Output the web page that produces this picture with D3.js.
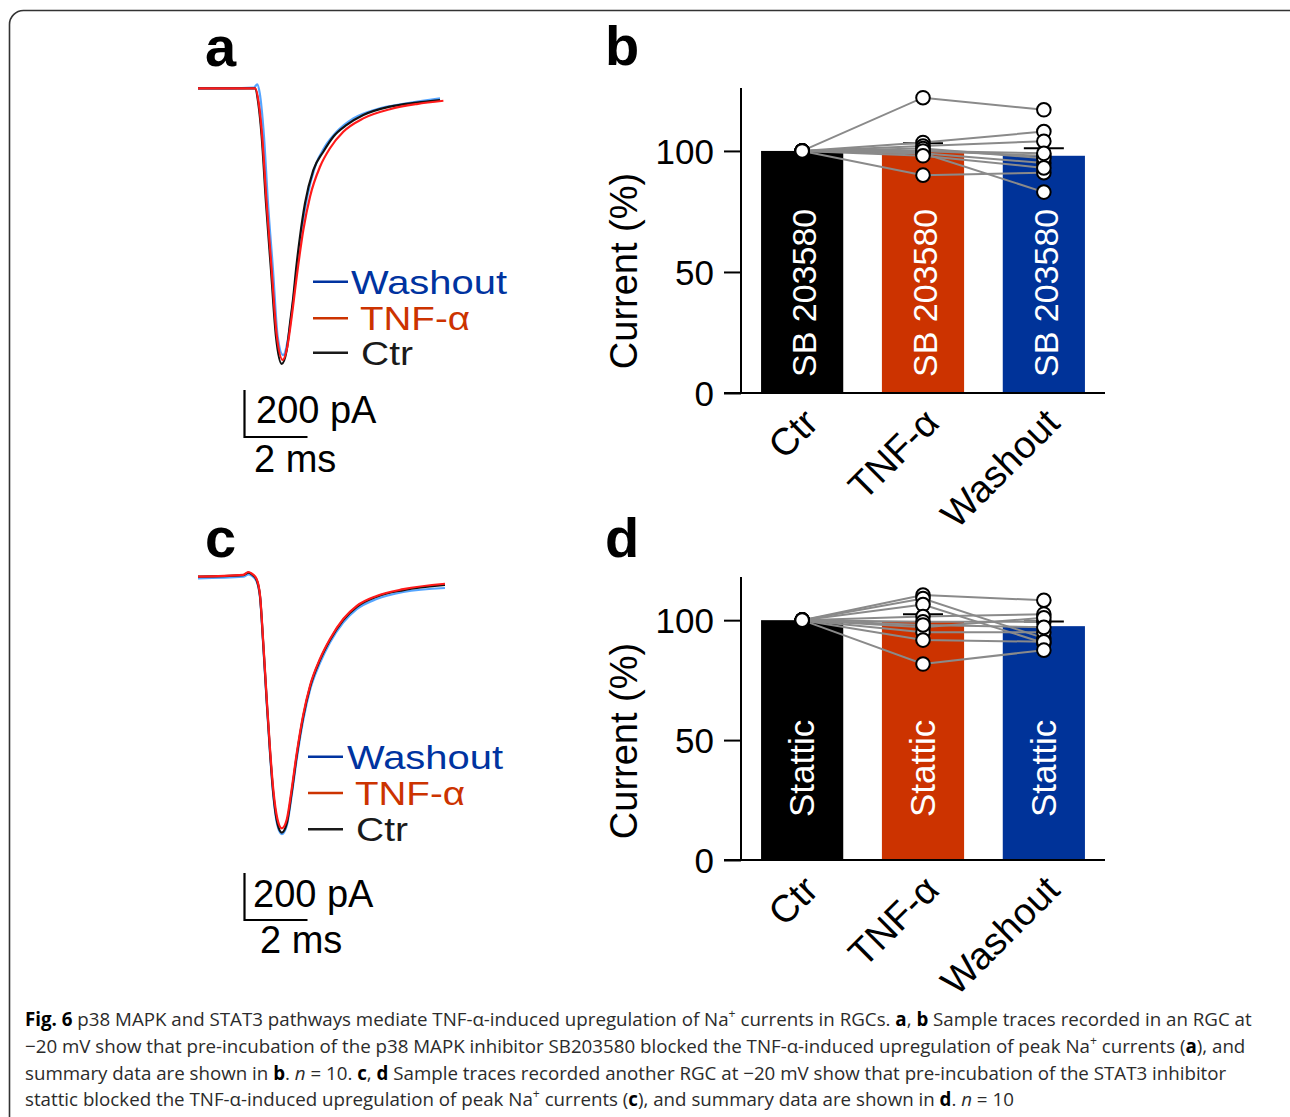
<!DOCTYPE html>
<html>
<head>
<meta charset="utf-8">
<script src="https://cdn.jsdelivr.net/npm/d3@7"></script>
<style>
  body { margin: 0; background: #fff; }
  svg { display: block; }
</style>
</head>
<body>
<div id="fig"></div>
<script>
// ---- data ----
// traces: time (ms) and current (pA), panel a (SB 203580)
var aCtrT = [0, 1.00, 1.81, 1.915, 2.022, 2.159, 2.317, 2.476, 2.657, 2.816, 2.921, 3.026, 3.111, 3.238, 3.397, 3.661, 3.978, 4.296, 4.720, 5.248, 6.095, 6.943, 7.683];
var aCtrI = [0, 0, 0, -64, -206, -489, -773, -1057, -1173, -1114, -1000, -887, -773, -631, -489, -348, -270, -206, -156, -114, -78, -61, -50];
var aTnfT = [0, 1.00, 1.82, 1.925, 2.035, 2.175, 2.335, 2.495, 2.69, 2.835, 2.975, 3.133, 3.343, 3.556, 3.873, 4.19, 4.613, 5.248, 6.095, 6.943, 7.79];
var aTnfI = [0, 0, 0, -60, -200, -480, -765, -1045, -1156, -1100, -972, -802, -603, -461, -334, -255, -185, -128, -89, -67, -53];
var aWashT = [0, 1.00, 1.78, 1.88, 1.96, 2.095, 2.222, 2.381, 2.53, 2.698, 2.87, 3.01, 3.133, 3.29, 3.47, 3.714, 4.03, 4.40, 4.93, 5.67, 6.625, 7.683];
var aWashI = [0, 0, 3, 17, -21, -206, -489, -773, -1057, -1135, -1057, -915, -773, -603, -461, -334, -248, -185, -128, -89, -64, -43];

// panel c (Stattic)
var cT = [0, 1.44, 1.60, 1.70, 1.86, 1.97, 2.07, 2.18, 2.29, 2.39, 2.52, 2.66, 2.82, 2.97, 3.13, 3.34, 3.56, 3.87, 4.19, 4.61, 5.04, 5.67, 6.52, 7.84];
var cCtrI = [0, 7, 17, 11, -14, -85, -283, -525, -752, -922, -1049, -1089, -1049, -922, -766, -596, -468, -355, -269, -184, -128, -85, -57, -35];
var cTnfI = [0, 8, 20, 14, -10, -80, -275, -515, -740, -905, -1030, -1071, -1032, -908, -755, -588, -462, -350, -265, -180, -124, -82, -53, -30];
var cWashI = [-7, 0, 10, 5, -20, -90, -290, -532, -760, -930, -1058, -1095, -1058, -935, -780, -610, -480, -368, -280, -195, -138, -95, -65, -48];

// summary bars
var groups = ["Ctr", "TNF-α", "Washout"];
var legendNames = ["Washout", "TNF-α", "Ctr"];
var yTicks = [0, 50, 100];
var bMeans = [100, 99.7, 98];
var bSem = [0, 3.5, 3.1];
var dMeans = [100, 99.3, 97.5];
var dSem = [0, 3.2, 1.9];
// individual cells (Ctr, TNF-α, Washout), n = 10
var bCtr = [100, 100, 100, 100, 100, 100, 100, 100, 100, 100];
var bTnf = [122, 90, 103.5, 102, 100, 99, 99, 101, 100, 98];
var bWash = [117, 91, 108, 104, 98, 83, 95, 97, 99, 93];
var dCtr = [100, 100, 100, 100, 100, 100, 100, 100, 100, 100];
var dTnf = [110.5, 109, 106.5, 101.5, 99.3, 97, 95, 91.7, 81.7, 98];
var dWash = [108.3, 92.5, 90.5, 102.5, 99.3, 101, 95, 91, 87.5, 97];

var barColors = ["#000000", "#cc3300", "#003399"];
var traceColors = { ctr: "#111111", tnf: "#ff1a1a", wash: "#55a5ff" };
var legendColors = ["#0033a0", "#cc3300", "#1a1a1a"];

var W = 1290, H = 1117;
var FONT = "'Liberation Sans', Arial, Helvetica, sans-serif";

var svg = d3.select("#fig").append("svg")
  .attr("width", W).attr("height", H)
  .style("font-family", FONT);

// outer frame
svg.append("rect")
  .attr("x", 9.5).attr("y", 10.5)
  .attr("width", 1300).attr("height", 1140)
  .attr("rx", 14)
  .attr("fill", "none").attr("stroke", "#333").attr("stroke-width", 1.6);

// panel letters
[["a", 205, 66], ["b", 605, 65], ["c", 205, 557], ["d", 605, 557]].forEach(function(p) {
  svg.append("text").attr("x", p[1]).attr("y", p[2])
    .attr("font-size", 56).attr("font-weight", "bold").attr("fill", "#000")
    .text(p[0]);
});

// ---- trace panels ----
function tracePanel(opts) {
  var g = svg.append("g");
  var x = d3.scaleLinear().domain([0, 2]).range([opts.x0, opts.x0 + 63]);
  var y = d3.scaleLinear().domain([0, -200]).range([opts.base, opts.base + 47]);
  var line = d3.line()
    .x(function(d) { return x(d[0]); })
    .y(function(d) { return y(d[1]); })
    .curve(d3.curveMonotoneX);

  opts.traces.forEach(function(tr) {
    g.append("path")
      .datum(d3.zip(tr.t, tr.i))
      .attr("d", line)
      .attr("fill", "none")
      .attr("stroke", tr.color)
      .attr("stroke-width", 2.2)
      .attr("stroke-linejoin", "round");
  });

  // legend (text stretched a little to the width seen in the figure)
  var legW = [156, 110, 52];
  legendNames.forEach(function(name, k) {
    var ly = opts.legY[k];
    g.append("line")
      .attr("x1", opts.legX).attr("x2", opts.legX + 35)
      .attr("y1", ly).attr("y2", ly)
      .attr("stroke", legendColors[k]).attr("stroke-width", 2.5);
    g.append("text")
      .attr("x", opts.legTextX[k]).attr("y", ly + 12)
      .attr("font-size", 34).attr("fill", legendColors[k])
      .attr("textLength", legW[k]).attr("lengthAdjust", "spacingAndGlyphs")
      .text(name);
  });

  // scale bar: 200 pA, 2 ms
  var sx = opts.sbX, sy = opts.sbY;
  var vLen = y(-200) - y(0), hLen = x(2) - x(0);
  g.append("path")
    .attr("d", "M" + sx + "," + (sy - vLen) + "V" + sy + "H" + (sx + hLen))
    .attr("fill", "none").attr("stroke", "#000").attr("stroke-width", 2.2);
  g.append("text").attr("x", opts.pAx).attr("y", opts.pAy)
    .attr("font-size", 38).attr("fill", "#000").text("200 pA");
  g.append("text").attr("x", opts.msx).attr("y", opts.msy)
    .attr("font-size", 38).attr("fill", "#000").text("2 ms");
}

tracePanel({
  x0: 198, base: 88.3,
  traces: [
    { t: aWashT, i: aWashI, color: traceColors.wash },
    { t: aCtrT, i: aCtrI, color: traceColors.ctr },
    { t: aTnfT, i: aTnfI, color: traceColors.tnf }
  ],
  legX: 313, legY: [281.7, 318.3, 352.7], legTextX: [351, 360, 361],
  sbX: 244.5, sbY: 437,
  pAx: 256, pAy: 423, msx: 254, msy: 472
});

tracePanel({
  x0: 198, base: 576.7,
  traces: [
    { t: cT, i: cWashI, color: traceColors.wash },
    { t: cT, i: cCtrI, color: traceColors.ctr },
    { t: cT, i: cTnfI, color: traceColors.tnf }
  ],
  legX: 308, legY: [756.7, 793, 829.3], legTextX: [347, 355, 356],
  sbX: 244.5, sbY: 920,
  pAx: 253, pAy: 907, msx: 260, msy: 953
});

// ---- bar panels ----
function barPanel(opts) {
  var g = svg.append("g");
  var x = d3.scaleBand().domain(groups).range([741, 1105])
    .paddingInner(0.32).paddingOuter(0.166);
  var y = d3.scaleLinear().domain([0, opts.yMax]).range([opts.y0, opts.yTop]);
  var cx = function(k) { return x(groups[k]) + x.bandwidth() / 2; };

  // bars
  g.selectAll("rect.bar").data(opts.means).enter().append("rect")
    .attr("class", "bar")
    .attr("x", function(d, k) { return x(groups[k]); })
    .attr("y", function(d) { return y(d); })
    .attr("width", x.bandwidth())
    .attr("height", function(d) { return y(0) - y(d); })
    .attr("fill", function(d, k) { return barColors[k]; });

  // labels inside bars
  groups.forEach(function(gname, k) {
    var tx = cx(k) + opts.inOff, ty = opts.inY;
    g.append("text")
      .attr("transform", "translate(" + tx + "," + ty + ") rotate(-90)")
      .attr("font-size", opts.inSize).attr("fill", "#fff")
      .text(opts.inLabel);
  });

  // error bars (upper half)
  opts.means.forEach(function(m, k) {
    if (!opts.sem[k]) return;
    var top = y(m + opts.sem[k]);
    g.append("line").attr("x1", cx(k)).attr("x2", cx(k))
      .attr("y1", y(m)).attr("y2", top)
      .attr("stroke", "#000").attr("stroke-width", 2);
    g.append("line").attr("x1", cx(k) - 20).attr("x2", cx(k) + 20)
      .attr("y1", top).attr("y2", top)
      .attr("stroke", "#000").attr("stroke-width", 2);
  });

  // paired cell lines
  var cells = d3.range(opts.cells[0].length).map(function(j) {
    return opts.cells.map(function(arr, k) { return [cx(k), y(arr[j])]; });
  });
  g.selectAll("path.cell").data(cells).enter().append("path")
    .attr("class", "cell")
    .attr("d", d3.line())
    .attr("fill", "none").attr("stroke", "#8a8a8a").attr("stroke-width", 2);

  // points
  opts.cells.forEach(function(arr, k) {
    g.selectAll(null).data(arr).enter().append("circle")
      .attr("cx", cx(k)).attr("cy", function(d) { return y(d); })
      .attr("r", 6.8)
      .attr("fill", "#fff").attr("stroke", "#000").attr("stroke-width", 2);
  });

  // y axis
  var ax = g.append("g")
    .attr("transform", "translate(741,0)")
    .call(d3.axisLeft(y).tickValues(yTicks).tickSize(17).tickPadding(10));
  ax.select(".domain").remove();
  ax.selectAll(".tick line").attr("stroke", "#000").attr("stroke-width", 2);
  ax.selectAll(".tick text")
    .attr("font-size", 35).attr("font-family", FONT).attr("fill", "#000")
    .attr("dy", "0.36em");
  g.append("line").attr("x1", 741).attr("x2", 741)
    .attr("y1", opts.yTop).attr("y2", y(0))
    .attr("stroke", "#000").attr("stroke-width", 2);
  g.append("line").attr("x1", 724).attr("x2", 1105)
    .attr("y1", y(0)).attr("y2", y(0))
    .attr("stroke", "#000").attr("stroke-width", 2);

  // y label
  g.append("text")
    .attr("transform", "translate(637," + opts.yLabY + ") rotate(-90)")
    .attr("text-anchor", "middle")
    .attr("font-size", 38).attr("fill", "#000")
    .text("Current (%)");

  // x labels
  groups.forEach(function(gname, k) {
    g.append("text")
      .attr("transform", "translate(" + (cx(k) + 18) + "," + (y(0) + 32) + ") rotate(-45)")
      .attr("text-anchor", "end")
      .attr("font-size", 38).attr("fill", "#000")
      .text(gname);
  });
}

barPanel({
  y0: 393, yTop: 88, yMax: 126,
  means: bMeans, sem: bSem, cells: [bCtr, bTnf, bWash],
  inLabel: "SB 203580", inSize: 34, inOff: 14, inY: 377,
  yLabY: 271
});

barPanel({
  y0: 860, yTop: 577, yMax: 118,
  means: dMeans, sem: dSem, cells: [dCtr, dTnf, dWash],
  inLabel: "Stattic", inSize: 35, inOff: 12, inY: 817,
  yLabY: 741
});

// ---- caption ----
var caption = [
  [["Fig. 6", "b"], [" p38 MAPK and STAT3 pathways mediate TNF-α-induced upregulation of Na", ""], ["+", "sup"], [" currents in RGCs. ", ""], ["a", "b"], [", ", ""], ["b", "b"], [" Sample traces recorded in an RGC at", ""]],
  [["−20 mV show that pre-incubation of the p38 MAPK inhibitor SB203580 blocked the TNF-α-induced upregulation of peak Na", ""], ["+", "sup"], [" currents (", ""], ["a", "b"], ["), and", ""]],
  [["summary data are shown in ", ""], ["b", "b"], [". ", ""], ["n", "i"], [" = 10. ", ""], ["c", "b"], [", ", ""], ["d", "b"], [" Sample traces recorded another RGC at −20 mV show that pre-incubation of the STAT3 inhibitor", ""]],
  [["stattic blocked the TNF-α-induced upregulation of peak Na", ""], ["+", "sup"], [" currents (", ""], ["c", "b"], ["), and summary data are shown in ", ""], ["d", "b"], [". ", ""], ["n", "i"], [" = 10", ""]]
];
var capBase = [1026, 1053, 1080, 1106];
var capSize = 18;
var capLines = caption.map(function(segs, li) {
  var t = svg.append("text")
    .attr("x", 25).attr("y", capBase[li])
    .attr("font-family", "'Open Sans', 'Noto Sans', sans-serif")
    .attr("font-size", capSize).attr("fill", "#2b2b2b");
  segs.forEach(function(s) {
    var ts = t.append("tspan").text(s[0]);
    if (s[1] === "b") ts.attr("font-weight", "bold").attr("fill", "#000");
    if (s[1] === "i") ts.attr("font-style", "italic");
    if (s[1] === "sup") ts.attr("font-size", capSize * 0.65).attr("baseline-shift", "super");
  });
  return t;
});
// fit the caption to the measured width of the first line (25 -> 1253)
var w0 = capLines[0].node().getBBox().width;
var k = 1228 / w0;
capLines.forEach(function(t) {
  t.attr("font-size", capSize * k);
  t.selectAll("tspan").filter(function() { return this.textContent === "+"; })
    .attr("font-size", capSize * k * 0.65);
});
</script>
</body>
</html>
